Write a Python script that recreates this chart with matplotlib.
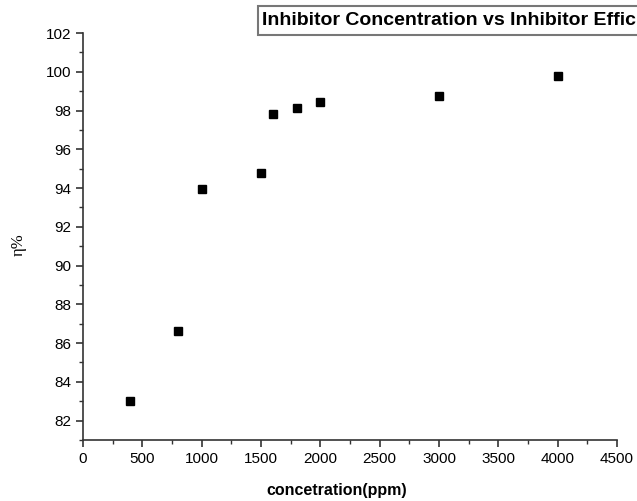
import matplotlib
matplotlib.use("Agg")
import matplotlib.pyplot as plt
from matplotlib.ticker import MultipleLocator
from matplotlib.patches import Rectangle

plt.rcParams['font.family'] = ['Liberation Sans', 'DejaVu Sans']

concentration = [400, 800, 1000, 1500, 1600, 1800, 2000, 3000, 4000]
efficiency = [83.0, 86.6, 93.95, 94.78, 97.83, 98.14, 98.45, 98.74, 99.81]
title = "Inhibitor Concentration vs Inhibitor Effic"
xlabel = "concetration(ppm)"
ylabel = "η%"

fig = plt.figure(figsize=(6.37, 5.01), dpi=100)
ax = fig.add_axes([0.1303, 0.1218, 0.8383, 0.8122])
ax.plot(concentration, efficiency, linestyle='none', marker='s', markersize=5.5,
        color='black')
ax.set_xlim(0, 4500)
ax.set_ylim(81, 102)
ax.xaxis.set_major_locator(MultipleLocator(500))
ax.xaxis.set_minor_locator(MultipleLocator(250))
ax.yaxis.set_major_locator(MultipleLocator(2))
ax.yaxis.set_minor_locator(MultipleLocator(1))
ax.spines['top'].set_visible(False)
ax.spines['right'].set_visible(False)
for s in ('left', 'bottom'):
    ax.spines[s].set_linewidth(1.2)
    ax.spines[s].set_color('#333333')
ax.tick_params(which='major', direction='out', length=5, width=1.2, labelsize=11, color='#333333')
ax.tick_params(which='minor', direction='out', length=3, width=1.0, color='#333333')
ax.set_xlabel(xlabel, fontsize=11.5, fontweight='bold', labelpad=10)
ax.xaxis.set_label_coords(0.476, -0.105)
ax.set_ylabel(ylabel, fontsize=12, family=['Liberation Serif', 'DejaVu Serif'])
ax.yaxis.set_label_coords(-0.105, 0.479)

# title box (extends past the right edge, as in the reference)
fig.patches.append(Rectangle((258/637, 1 - 35/501), 0.75, 29/501, transform=fig.transFigure,
                             facecolor='white', edgecolor='#777777', linewidth=1.5))
fig.text(262/637, 1 - 20.5/501, title, fontsize=14, fontweight='bold', va='center', ha='left')

fig.savefig("out.png", dpi=100)
